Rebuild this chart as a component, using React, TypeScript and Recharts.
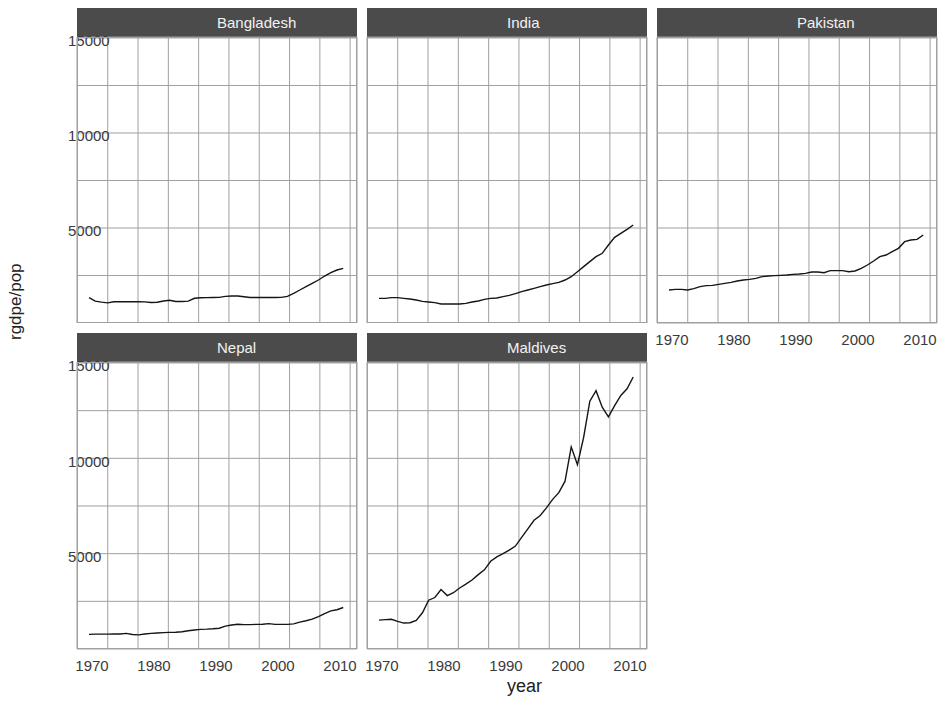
import React from 'react';
import { LineChart, Line, XAxis, YAxis, CartesianGrid } from 'recharts';

const years = [
  1970, 1971, 1972, 1973, 1974, 1975, 1976, 1977, 1978, 1979,
  1980, 1981, 1982, 1983, 1984, 1985, 1986, 1987, 1988, 1989,
  1990, 1991, 1992, 1993, 1994, 1995, 1996, 1997, 1998, 1999,
  2000, 2001, 2002, 2003, 2004, 2005, 2006, 2007, 2008, 2009,
  2010, 2011,
];

const bangladesh = [
  1333, 1150, 1100, 1060, 1120, 1120, 1120, 1120, 1120, 1110,
  1080, 1090, 1160, 1200, 1130, 1130, 1150, 1300, 1330, 1335,
  1340, 1350, 1400, 1420, 1420, 1380, 1340, 1340, 1340, 1340,
  1345, 1350, 1400, 1560, 1737, 1912, 2087, 2263, 2473, 2649,
  2789, 2877,
];

const india = [
  1298, 1298, 1333, 1333, 1298, 1263, 1210, 1140, 1105, 1070,
  1000, 1000, 1000, 1000, 1035, 1105, 1158, 1245, 1298, 1316,
  1386, 1456, 1544, 1649, 1737, 1825, 1912, 2000, 2070, 2140,
  2263, 2438, 2701, 2965, 3228, 3491, 3667, 4105, 4509, 4719,
  4930, 5158,
];

const pakistan = [
  1737, 1772, 1772, 1737, 1807, 1912, 1965, 1982, 2035, 2087,
  2140, 2210, 2263, 2298, 2351, 2438, 2473, 2491, 2508, 2526,
  2561, 2579, 2614, 2684, 2684, 2649, 2754, 2754, 2754, 2701,
  2737, 2877, 3052, 3263, 3491, 3579, 3754, 3930, 4280, 4368,
  4403, 4631,
];

const nepal = [
  766, 780, 780, 780, 785, 790, 819, 760, 740, 790,
  820, 840, 860, 870, 880, 906, 960, 1000, 1028, 1040,
  1060, 1090, 1200, 1260, 1300, 1280, 1280, 1290, 1300, 1330,
  1290, 1290, 1290, 1320, 1410, 1480, 1570, 1700, 1860, 2000,
  2060, 2178,
];

const maldives = [
  1516, 1540, 1560, 1450, 1360, 1376, 1500, 1900, 2560, 2700,
  3118, 2800, 2950, 3200, 3400, 3620, 3900, 4150, 4600, 4830,
  5000, 5190, 5400, 5850, 6300, 6750, 7000, 7400, 7850, 8200,
  8800, 10600, 9670, 11100, 13000, 13550, 12680, 12176, 12760, 13300,
  13650, 14267,
];

const xTicks = [1970, 1980, 1990, 2000, 2010];
const gridYears = [1970, 1975, 1980, 1985, 1990, 1995, 2000, 2005, 2010, 2015];
const yTicks = [0, 2500, 5000, 7500, 10000, 12500, 15000];
const yLabelTicks = [5000, 10000, 15000];

const FONT = '"Liberation Sans", Arial, Helvetica, sans-serif';
const GRID = '#a0a0a0';
const STRIP = '#4b4b4b';
const PANEL_W = 280;
const Y_AXIS_W = 17;
const PAD = 12;
const PAD_TOP = 6;
const X_DOMAIN: [number, number] = [1968.06, 2013.22];
const GRID_DOMAIN: [number, number] = [1969.93, 2016.13];
const Y_DOMAIN: [number, number] = [0, 15052];

type PanelProps = {
  name: string;
  values: number[];
  left: number;
  stripTop: number;
  plotH: number;
  showY: boolean;
  showX: boolean;
};

function Panel({ name, values, left, stripTop, plotH, showY, showX }: PanelProps) {
  const data = years.map((year, i) => ({ year, v: values[i] }));
  const plotTop = stripTop + 29;
  const yw = showY ? Y_AXIS_W : 0;
  const chartLeft = left - yw - PAD;
  const chartW = PANEL_W + yw + 2 * PAD;
  const chartH = PAD_TOP + plotH + (showX ? 30 : 0);

  const XTick = (props: any) => {
    const { x, payload } = props;
    return (
      <text x={x + 3} y={PAD_TOP + plotH + 22} textAnchor="middle" fontSize={15} fill="#3a3a3a" fontFamily={FONT}>
        {payload.value}
      </text>
    );
  };

  const YTick = (props: any) => {
    const { y, payload } = props;
    if (!yLabelTicks.includes(payload.value)) return <g />;
    return (
      <text x={PAD + 8} y={y + 8.5} textAnchor="start" fontSize={15} fill="#3a3a3a" fontFamily={FONT}>
        {payload.value}
      </text>
    );
  };

  return (
    <>
      <div
        style={{
          position: 'absolute',
          left,
          top: stripTop,
          width: PANEL_W,
          height: 29,
          background: STRIP,
          color: '#f2f2f2',
          fontFamily: FONT,
          fontSize: 15,
          lineHeight: '30px',
          boxSizing: 'border-box',
          paddingLeft: PANEL_W / 2,
          whiteSpace: 'nowrap',
        }}
      >
        {name}
      </div>
      <div style={{ position: 'absolute', left: chartLeft, top: plotTop - PAD_TOP }}>
        <LineChart
          width={chartW}
          height={chartH}
          data={data}
          margin={{ top: PAD_TOP, right: PAD, bottom: 0, left: PAD }}
        >
          <XAxis
            xAxisId="grid"
            dataKey="year"
            type="number"
            domain={GRID_DOMAIN}
            ticks={gridYears}
            interval={0}
            allowDataOverflow
            hide
          />
          <CartesianGrid xAxisId="grid" stroke={GRID} strokeWidth={1} />
          <XAxis
            dataKey="year"
            type="number"
            domain={X_DOMAIN}
            ticks={xTicks}
            interval={0}
            allowDataOverflow
            hide={!showX}
            height={30}
            axisLine={false}
            tickLine={false}
            tick={<XTick />}
          />
          <YAxis
            type="number"
            domain={Y_DOMAIN}
            ticks={yTicks}
            interval={0}
            allowDataOverflow
            hide={!showY}
            width={Y_AXIS_W}
            axisLine={false}
            tickLine={false}
            tick={<YTick />}
          />
          <Line
            type="linear"
            dataKey="v"
            stroke="#151515"
            strokeWidth={1.4}
            dot={false}
            isAnimationActive={false}
          />
        </LineChart>
      </div>
      <div
        style={{
          position: 'absolute',
          left,
          top: plotTop,
          width: PANEL_W,
          height: plotH,
          border: `1px solid ${GRID}`,
          boxSizing: 'border-box',
          pointerEvents: 'none',
        }}
      />
    </>
  );
}

export default function App() {
  return (
    <div style={{ position: 'absolute', left: 0, top: 0, width: 939, height: 701, background: '#ffffff', overflow: 'hidden' }}>
      <svg width={939} height={701} style={{ position: 'absolute', left: 0, top: 0 }}>
        <text
          transform="translate(21, 340) rotate(-90)"
          x={0}
          y={0}
          textAnchor="start"
          fontSize={17}
          fill="#222"
          fontFamily={FONT}
        >
          rgdpe/pop
        </text>
        <text x={507} y={692} textAnchor="start" fontSize={18} fill="#222" fontFamily={FONT}>
          year
        </text>
      </svg>
      <Panel name="Bangladesh" values={bangladesh} left={77} stripTop={8} plotH={286} showY showX={false} />
      <Panel name="India" values={india} left={367} stripTop={8} plotH={286} showY={false} showX={false} />
      <Panel name="Pakistan" values={pakistan} left={657} stripTop={8} plotH={286} showY={false} showX />
      <Panel name="Nepal" values={nepal} left={77} stripTop={333} plotH={287} showY showX />
      <Panel name="Maldives" values={maldives} left={367} stripTop={333} plotH={287} showY={false} showX />
    </div>
  );
}
